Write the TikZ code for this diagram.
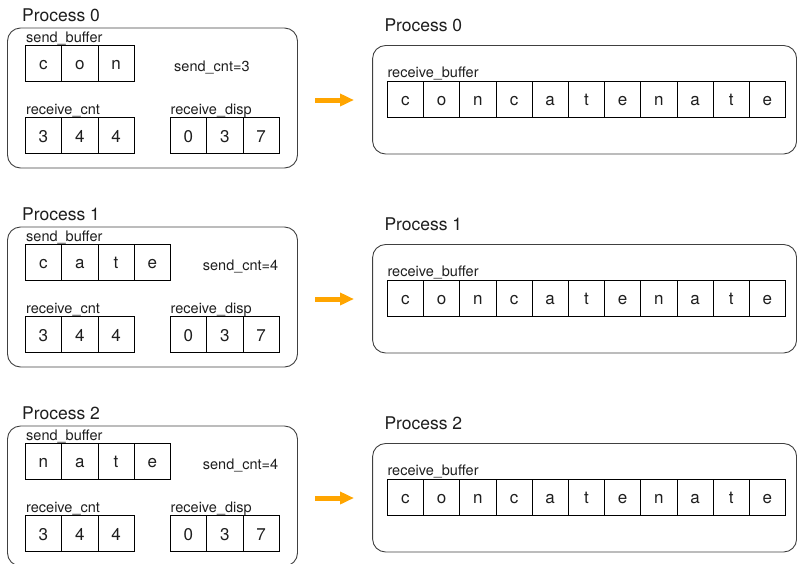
\documentclass[tikz,border=0pt]{standalone}
\usepackage{fontspec}
\setmainfont{TeX Gyre Heros}
\usetikzlibrary{arrows.meta}
\definecolor{arrowc}{RGB}{255,165,0}
\definecolor{ink}{RGB}{30,30,30}
\begin{document}
\begin{tikzpicture}[x=1pt,y=-1pt,
  panel/.style={draw=black!75, line width=0.9pt, rounded corners=13pt, inner sep=0pt},
  cell/.style={draw=black, line width=0.8pt, minimum width=36.3pt, minimum height=36pt,
    inner sep=0pt, text height=12.5pt, text depth=0pt, font=\fontsize{17}{17}\selectfont, text=ink},
  title/.style={anchor=base west, inner sep=0pt, font=\fontsize{17.5}{17.5}\selectfont, text=ink},
  lbl/.style={anchor=base west, inner sep=0pt, font=\fontsize{14.5}{14.5}\selectfont, text=ink},
  flow/.style={draw=arrowc, line width=5pt, -{Triangle[length=14pt,width=12pt]}}
]
\useasboundingbox (0,0) rectangle (797,563);
\foreach \k/\letters/\cnt/\cx in {0/{c,o,n}/3/174, 1/{c,a,t,e}/4/202.7, 2/{n,a,t,e}/4/202.7}{
  \pgfmathsetmacro\dy{199*\k}
  % left panel
  \node[title] (lt\k) at (22, 21+\dy) {Process \k};
  \node[panel, minimum width=290pt, minimum height=140pt] (lp\k) at (152.5, 98+\dy) {};
  \node[lbl] (sbl\k) at (26, 42.3+\dy) {send\_buffer};
  \foreach \c [count=\i] in \letters {
    \node[cell] (s\k-\i) at (43.45+36.3*\i-36.3, 63.3+\dy) {\c};
  }
  \node[lbl] (sc\k) at (\cx, 71+\dy) {send\_cnt=\cnt};
  \node[lbl] (rcl\k) at (26, 114.3+\dy) {receive\_cnt};
  \foreach \c [count=\i] in {3,4,4} {
    \node[cell] (rc\k-\i) at (43.45+36.3*\i-36.3, 135.8+\dy) {\c};
  }
  \node[lbl] (rdl\k) at (170.5, 114.3+\dy) {receive\_disp};
  \foreach \c [count=\i] in {0,3,7} {
    \node[cell] (rd\k-\i) at (188.45+36.3*\i-36.3, 135.8+\dy) {\c};
  }
  % arrow
  \coordinate (a\k) at (315, 100+\dy);
  \coordinate (b\k) at (354, 100+\dy);
  \draw[flow] (a\k) -- (b\k);
  % right panel
  \node[title] (rt\k) at (384.3, 31+\dy) {Process \k};
  \node[panel, minimum width=424pt, minimum height=108.5pt] (rp\k) at (584.6, 99.75+\dy) {};
  \node[lbl] (rbl\k) at (387.3, 77.3+\dy) {receive\_buffer};
  \foreach \c [count=\i] in {c,o,n,c,a,t,e,n,a,t,e} {
    \node[cell, minimum width=36.2pt] (rb\k-\i) at (405.4+36.2*\i-36.2, 99.3+\dy) {\c};
  }
}
\end{tikzpicture}
\end{document}
